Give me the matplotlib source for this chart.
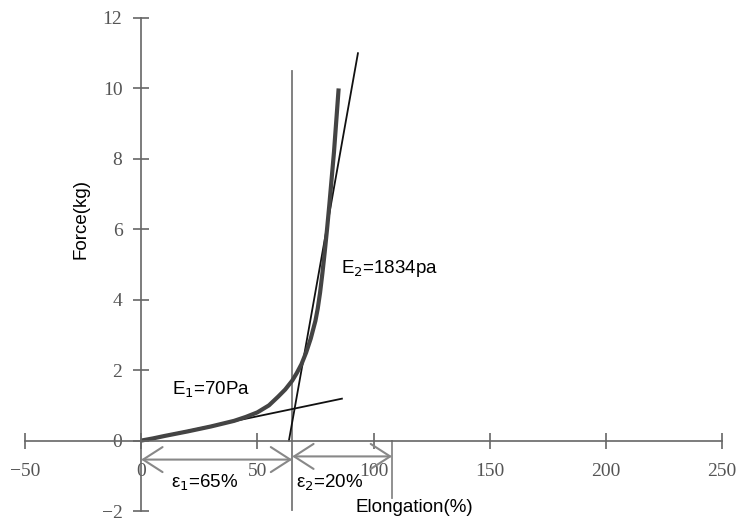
import matplotlib
matplotlib.use("Agg")
import matplotlib.pyplot as plt

# data
elong = [0, 5, 10, 20, 30, 40, 45, 50, 55, 59, 62, 65, 67, 69, 71, 73, 75, 76, 77, 78, 79, 80, 81, 82, 83, 84, 85]
force = [0, 0.06, 0.13, 0.26, 0.40, 0.56, 0.67, 0.80, 1.0, 1.25, 1.45, 1.70, 1.92, 2.17, 2.50, 2.90, 3.40, 3.75, 4.2, 4.75, 5.35, 6.0, 6.7, 7.45, 8.2, 9.1, 10.0]
tan1_x = [0, 86.4]
tan1_y = [0, 1.19]
tan2_x = [63.6, 93.3]
tan2_y = [0, 11.0]
vline_x = 65
vline_y = [-1.97, 10.5]
vline2_x = 108
vline2_y = [0, -1.62]
xticks = [-50, 0, 50, 100, 150, 200, 250]
yticks = [-2, 0, 2, 4, 6, 8, 10, 12]

fig = plt.figure(figsize=(7.41, 5.23), dpi=100)
ax = fig.add_axes([25/741, 1-511/523, (722-25)/741, (511-18)/523])
ax.set_xlim(-50, 250)
ax.set_ylim(-2, 12)

for s in ['top', 'right']:
    ax.spines[s].set_visible(False)
ax.spines['left'].set_position('zero')
ax.spines['bottom'].set_position('zero')
for s in ['left', 'bottom']:
    ax.spines[s].set_color('#666666')
    ax.spines[s].set_linewidth(1.2)

ax.set_xticks(xticks)
ax.set_yticks(yticks)
ax.tick_params(axis='both', direction='inout', length=11, width=1.2, color='#666666',
               labelcolor='#555555', labelsize=14)
ax.tick_params(axis='x', pad=11)
ax.tick_params(axis='y', pad=8)
for lab in ax.get_xticklabels() + ax.get_yticklabels():
    lab.set_fontfamily('Liberation Serif')

sans = 'Liberation Sans'
# vertical reference lines
ax.plot([vline_x, vline_x], vline_y, color='#777777', lw=1.3)
ax.plot([vline2_x, vline2_x], vline2_y, color='#888888', lw=1.3)

# tangents
ax.plot(tan1_x, tan1_y, color='#111111', lw=1.3)
ax.plot(tan2_x, tan2_y, color='#111111', lw=1.3)

# curve
ax.plot(elong, force, color='#444444', lw=3.0, solid_capstyle='butt', solid_joinstyle='round')

# arrows
ap = dict(arrowstyle='<->,head_length=0.7,head_width=0.45', color='#888888', lw=1.5,
          mutation_scale=20, shrinkA=0, shrinkB=0)
ax.annotate('', xy=(0, -0.54), xytext=(65, -0.54), arrowprops=ap)
ax.annotate('', xy=(65, -0.45), xytext=(108, -0.45), arrowprops=ap)

# texts
ax.text(13.3, 1.45, 'E$_1$=70Pa', fontsize=13.5, family=sans, va='center', ha='left')
ax.text(86, 4.9, 'E$_2$=1834pa', fontsize=13.5, family=sans, va='center', ha='left')
ax.text(13, -1.19, 'ε$_1$=65%', fontsize=13.5, family=sans, va='center', ha='left')
ax.text(66.5, -1.2, 'ε$_2$=20%', fontsize=13.5, family=sans, va='center', ha='left')
ax.text(117.5, -1.9, 'Elongation(%)', fontsize=13.5, family=sans, va='center', ha='center')
ax.text(-26, 6.3, 'Force(kg)', fontsize=13.5, family=sans, va='center', ha='center', rotation=90)

fig.savefig('out.png', dpi=100)
